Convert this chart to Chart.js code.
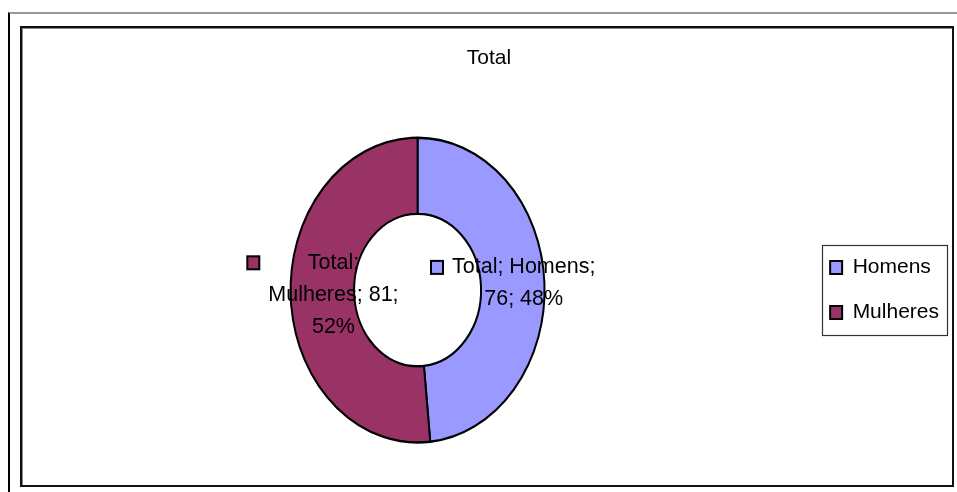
<!DOCTYPE html>
<html>
<head>
<meta charset="utf-8">
<script src="https://cdn.jsdelivr.net/npm/chart.js@4/dist/chart.umd.min.js"></script>
<style>
  html, body { margin: 0; padding: 0; background: #fff; }
  body { width: 957px; height: 492px; position: relative; overflow: hidden; }
  #outer { position: absolute; left: 8px; top: 12px; right: 0; bottom: 0; border-top: 2px solid #999; border-left: 2px solid #000; }
  #frame { position: absolute; left: 20px; top: 26px; width: 934px; height: 461px; box-sizing: border-box;
           border: 2px solid #111; box-shadow: inset 1px 1px 0 #888; }
  #wrap { position: absolute; left: 22px; top: 28px; width: 930px; height: 457px; }
</style>
</head>
<body>
<div id="outer"></div>
<div id="frame"></div>
<div id="wrap"><canvas id="chart"></canvas></div>
<script>
// chart data
const seriesName = 'Total';
const categories = ['Homens', 'Mulheres'];
const values = [76, 81];
const colors = ['#9999ff', '#993366'];
// words per line in each data label (Excel-style wrapping)
const labelBreaks = [[2, 2], [1, 2, 1]];

const fontFamily = "'Liberation Sans', Arial, sans-serif";
const yStretch = 1.2; // the ring is drawn as a tall ellipse

const total = values.reduce((a, b) => a + b, 0);

// Stretch the doughnut vertically around its centre
const ellipsePlugin = {
  id: 'ellipse',
  beforeDatasetsDraw(chart) {
    const arc = chart.getDatasetMeta(0).data[0];
    const ctx = chart.ctx;
    ctx.save();
    ctx.translate(arc.x, arc.y);
    ctx.scale(1, yStretch);
    ctx.translate(-arc.x, -arc.y);
  },
  afterDatasetsDraw(chart) {
    chart.ctx.restore();
    drawDataLabels(chart);
  },
  afterDraw(chart) {
    // border round the legend
    const boxes = chart.legend.legendHitBoxes;
    if (!boxes || !boxes.length) return;
    const left = Math.min(...boxes.map(b => b.left)) - 8;
    const right = Math.max(...boxes.map(b => b.left + b.width)) + 8;
    const top = boxes[0].top - 12;
    const bottom = boxes[boxes.length - 1].top + boxes[boxes.length - 1].height + 12;
    const ctx = chart.ctx;
    ctx.save();
    ctx.strokeStyle = '#333';
    ctx.lineWidth = 1.2;
    ctx.strokeRect(Math.round(left) + 0.5, Math.round(top) + 0.5, Math.round(right - left), Math.round(bottom - top));
    ctx.restore();
  }
};

function drawDataLabels(chart) {
  const ctx = chart.ctx;
  const meta = chart.getDatasetMeta(0);
  ctx.save();
  ctx.font = '21.5px ' + fontFamily;
  ctx.fillStyle = '#000';
  ctx.textAlign = 'center';
  ctx.textBaseline = 'middle';
  meta.data.forEach((arc, i) => {
    const pct = Math.round(values[i] / total * 100);
    const words = [seriesName + ';', categories[i] + ';', values[i] + ';', pct + '%'];
    const lines = [];
    let k = 0;
    labelBreaks[i].forEach(n => { lines.push(words.slice(k, k + n).join(' ')); k += n; });

    const p = arc.tooltipPosition();
    const cx = p.x + 11;
    const cy = arc.y + (p.y - arc.y) * yStretch - 1;
    const lh = 32;
    const y0 = cy - (lines.length - 1) * lh / 2;
    let maxW = 0;
    lines.forEach((line, j) => {
      ctx.fillText(line, cx, y0 + j * lh);
      maxW = Math.max(maxW, ctx.measureText(line).width);
    });
    // legend key in front of the label
    const kx = cx - maxW / 2 - 21;
    ctx.fillStyle = colors[i];
    ctx.fillRect(kx, y0 - 6.5, 12, 13);
    ctx.strokeStyle = '#000';
    ctx.lineWidth = 2;
    ctx.strokeRect(kx, y0 - 6.5, 12, 13);
    ctx.fillStyle = '#000';
  });
  ctx.restore();
}

new Chart(document.getElementById('chart'), {
  type: 'doughnut',
  data: {
    labels: categories,
    datasets: [{
      label: seriesName,
      data: values,
      backgroundColor: colors,
      borderColor: '#000',
      borderWidth: 2,
      radius: 127,
      cutout: '50%'
    }]
  },
  options: {
    responsive: true,
    maintainAspectRatio: false,
    animation: false,
    events: [],
    layout: { padding: { left: 7, right: 3, top: 0, bottom: 0 } },
    plugins: {
      title: {
        display: true,
        text: seriesName,
        color: '#000',
        font: { size: 21, family: fontFamily, weight: 'normal' },
        padding: { top: 18, bottom: 24 }
      },
      legend: {
        position: 'right',
        fullSize: false,
        labels: {
          boxWidth: 12,
          boxHeight: 13,
          color: '#000',
          padding: 24,
          font: { size: 21, family: fontFamily }
        }
      },
      tooltip: { enabled: false }
    }
  },
  plugins: [ellipsePlugin]
});
</script>
</body>
</html>
